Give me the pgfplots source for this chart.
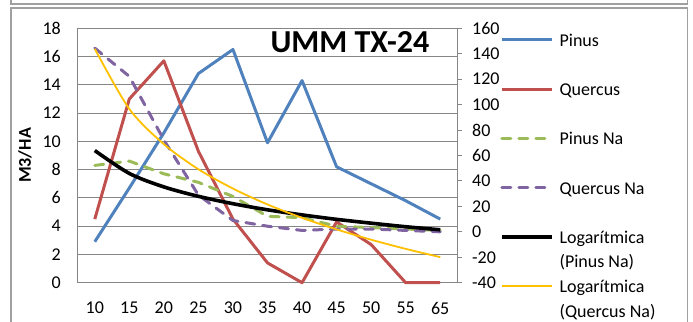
\documentclass[border=0pt]{standalone}
\usepackage{fontspec}
\setmainfont{Carlito}
\usepackage{pgfplots}
\usepackage{pgfplotstable}
\pgfplotsset{compat=1.18}
\definecolor{cPinus}{RGB}{79,129,189}
\definecolor{cQuercus}{RGB}{192,80,77}
\definecolor{cPinusNa}{RGB}{155,187,89}
\definecolor{cQuercusNa}{RGB}{128,100,162}
\definecolor{cLogQ}{RGB}{255,192,0}
\definecolor{cGrid}{RGB}{134,134,134}
\definecolor{cFrame}{RGB}{160,160,160}

\pgfplotstableread{
i pinus quercus
0 2.9 4.5
1 6.7 13.0
2 10.6 15.7
3 14.8 9.3
4 16.5 4.5
5 9.9 1.4
6 14.3 0.0
7 8.2 4.3
8 7.0 2.7
9 5.8 0.0
10 4.5 0.0
}\primary

\pgfplotstableread{
i pinusna quercusna logp logq
0 52.2 144.4 63.9 143.9
1 55.6 122.2 45.9 96.6
2 45.6 72.2 35.3 68.9
3 38.9 28.9 27.9 49.2
4 27.8 8.9 22.1 34.0
5 12.2 4.4 17.3 21.5
6 11.1 1.1 13.3 11.0
7 4.4 2.2 9.8 1.9
8 3.3 2.2 6.8 -6.2
9 2.2 1.1 4.0 -13.4
10 1.1 0.0 1.6 -19.9
}\secondary

\pgfplotsset{
  sPinus/.style={cPinus, line width=3bp, line join=round},
  sQuercus/.style={cQuercus, line width=3bp, line join=round},
  sPinusNa/.style={cPinusNa, line width=3bp, line cap=round, dash pattern=on 9bp off 8bp},
  sQuercusNa/.style={cQuercusNa, line width=3bp, line cap=round, dash pattern=on 9bp off 8bp},
  sLogP/.style={black, line width=3.6bp},
  sLogQ/.style={cLogQ, line width=1.8bp},
  base/.style={
    scale only axis, width=380bp, height=254.4bp,
    at={(77.5bp,39.3bp)}, anchor=south west,
    xmin=-0.5, xmax=10.5,
    /pgf/number format/assume math mode=true,
    clip=false,
  },
}

\begin{document}
\fontsize{18bp}{21.6bp}\selectfont
\begin{tikzpicture}
\useasboundingbox (0,0) rectangle (693bp,322bp);
% outer frames
\draw[cFrame, line width=1.3bp] (11bp,322bp) -- (11bp,318bp) -- (687.5bp,318bp) -- (687.5bp,322bp);
\draw[cFrame, line width=1.3bp] (11bp,-2bp) -- (11bp,314bp) -- (687.5bp,314bp) -- (687.5bp,-2bp);

\begin{axis}[base,
  ymin=0, ymax=18, ytick distance=2,
  ymajorgrids, grid style={cGrid, line width=0.9bp},
  axis line style={cGrid, line width=0.9bp},
  ytick pos=left, major tick length=0pt,
  xtick={0,...,10},
  xticklabels={10,15,20,25,30,35,40,45,50,55,65},
  xticklabel style={anchor=north, yshift=-13bp},
  yticklabel style={anchor=east, xshift=-10.5bp},
  ylabel={\bfseries M3/HA},
  ylabel style={at={(axis description cs:-0.138,0.5)}, anchor=center},
]
\addplot[sPinus] table[x=i, y=pinus] {\primary};
\addplot[sQuercus] table[x=i, y=quercus] {\primary};
\end{axis}

\begin{axis}[base,
  ymin=-40, ymax=160, ytick distance=20,
  axis x line=none, axis y line*=right,
  axis line style={cGrid, line width=0.9bp},
  ytick pos=right, tick align=outside, major tick length=4.5bp,
  tick style={cGrid, line width=0.9bp},
  yticklabel style={anchor=west, xshift=4bp},
  legend style={at={(axis description cs:1.1118,0.9835)}, anchor=north west,
    draw=none, fill=none, inner sep=0pt, outer sep=0pt,
    row sep=0pt, column sep=0pt,
    nodes={inner xsep=0pt, inner ysep=0pt, text height=14bp, text depth=10.6bp},
    cells={anchor=base west}},
  legend image code/.code={\path (0bp,0bp) (56bp,0bp); \draw[#1] (0bp,6.5bp) -- (50bp,6.5bp);},
]
\addlegendimage{sPinus}
\addlegendentry{Pinus}
\addlegendimage{empty legend}
\addlegendentry{}
\addlegendimage{sQuercus}
\addlegendentry{Quercus}
\addlegendimage{empty legend}
\addlegendentry{}
\addplot[sPinusNa] table[x=i, y=pinusna] {\secondary};
\addlegendentry{Pinus Na}
\addlegendimage{empty legend}
\addlegendentry{}
\addplot[sQuercusNa] table[x=i, y=quercusna] {\secondary};
\addlegendentry{Quercus Na}
\addlegendimage{empty legend}
\addlegendentry{}
\addplot[sLogP, smooth] table[x=i, y=logp] {\secondary};
\addlegendentry{Logarítmica}
\addlegendimage{empty legend}
\addlegendentry{(Pinus Na)}
\addplot[sLogQ, smooth] table[x=i, y=logq] {\secondary};
\addlegendentry{Logarítmica}
\addlegendimage{empty legend}
\addlegendentry{(Quercus Na)}
\node[anchor=base, font=\bfseries\fontsize{32bp}{36bp}\selectfont] at (axis description cs:0.717,0.903) {UMM TX-24};
\end{axis}
\end{tikzpicture}
\end{document}
